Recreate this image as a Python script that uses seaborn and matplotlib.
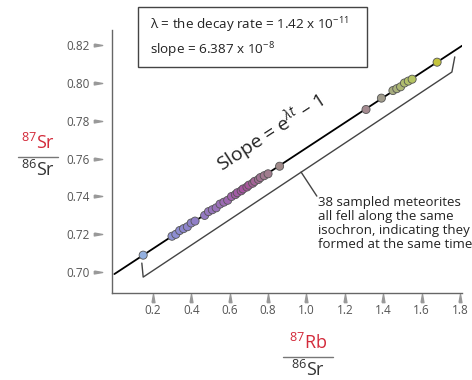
import numpy as np
import pandas as pd
import matplotlib
matplotlib.use('Agg')
import matplotlib.pyplot as plt
import seaborn as sns
from matplotlib.colors import LinearSegmentedColormap
from matplotlib.lines import Line2D
from matplotlib.patches import Rectangle

# données
rb_sr = [0.15,
         0.30, 0.32, 0.34, 0.36, 0.38, 0.40, 0.42,
         0.47, 0.49, 0.51, 0.53, 0.55, 0.57, 0.59, 0.61, 0.63, 0.64, 0.66,
         0.67, 0.69, 0.70, 0.72, 0.73, 0.75, 0.76, 0.78, 0.80, 0.86,
         1.31, 1.39, 1.45, 1.47, 1.49, 1.51, 1.53, 1.55, 1.68]
sr_sr = [0.709,
         0.719, 0.720, 0.722, 0.723, 0.724, 0.726, 0.727,
         0.730, 0.732, 0.733, 0.734, 0.736, 0.737, 0.738, 0.740, 0.741, 0.742, 0.743,
         0.744, 0.745, 0.746, 0.747, 0.748, 0.749, 0.750, 0.751, 0.752, 0.756,
         0.786, 0.792, 0.796, 0.797, 0.798, 0.800, 0.801, 0.802, 0.811]
iso_x = [0.0, 1.81]
iso_y = [0.699, 0.8197]
xticks = [0.2, 0.4, 0.6, 0.8, 1.0, 1.2, 1.4, 1.6, 1.8]
yticks = [0.70, 0.72, 0.74, 0.76, 0.78, 0.80, 0.82]

df = pd.DataFrame({'rb': rb_sr, 'sr': sr_sr})

sns.set_style('white')
plt.rcParams['font.family'] = ['Open Sans', 'DejaVu Sans']
plt.rcParams['mathtext.fontset'] = 'custom'
plt.rcParams['mathtext.rm'] = 'Open Sans'
plt.rcParams['mathtext.it'] = 'Open Sans:italic'

red = '#d32a3a'
grey = '#555555'

cmap = LinearSegmentedColormap.from_list('meteor', [
    (0.00, '#93b0e0'), (0.13, '#8c88d0'), (0.26, '#9a70b8'), (0.35, '#a8509e'),
    (0.41, '#a07890'), (0.46, '#a08a8a'), (0.76, '#a48a90'), (0.81, '#a09a8c'),
    (0.86, '#a8b07c'), (0.91, '#b4c466'), (1.00, '#c4c43c')])

fig = plt.figure(figsize=(4.72, 3.8), dpi=100)
ax = fig.add_axes([0.237, 0.229, 0.742, 0.692])

sns.lineplot(x=iso_x, y=iso_y, color='black', linewidth=1.3, ax=ax)
sns.scatterplot(data=df, x='rb', y='sr', hue='rb', palette=cmap, hue_norm=(0.15, 1.68),
                s=34, edgecolor='#555555', linewidth=0.6, legend=False, ax=ax, zorder=3)

ax.set_xlim(-0.013, 1.81)
ax.set_ylim(0.689, 0.828)
ax.set_xticks(xticks)
ax.set_yticks(yticks)
ax.set_xticklabels([f'{v:.1f}' for v in xticks])
ax.set_yticklabels([f'{v:.2f}' for v in yticks])
ax.tick_params(axis='both', length=0, labelsize=8.5, labelcolor=grey)
ax.tick_params(axis='y', pad=16)
ax.tick_params(axis='x', pad=8)
ax.set_xlabel('')
ax.set_ylabel('')
sns.despine(ax=ax)
for side in ['left', 'bottom']:
    ax.spines[side].set_color('#666666')
    ax.spines[side].set_linewidth(1.0)

# petits repères triangulaires
tri_r = [(-1, 0.35), (1, 0), (-1, -0.35), (-1, 0.35)]
tri_u = [(-0.35, -1), (0, 1), (0.35, -1), (-0.35, -1)]
for v in yticks:
    ax.plot([-0.041], [v], marker=tri_r, markersize=6, color='#999999',
            transform=ax.get_yaxis_transform(), clip_on=False)
for v in xticks:
    ax.plot([v], [-0.02], marker=tri_u, markersize=6, color='#999999',
            transform=ax.get_xaxis_transform(), clip_on=False)

# texte le long de l'isochrone
ax.text(0.81, 0.7735, r'Slope = e$^{\lambda t}$ – 1', rotation=33, fontsize=14,
        ha='center', va='center', color='#222222')

# accolade sous les points
ax.plot([0.143, 0.150, 1.757, 1.772], [0.7048, 0.6974, 0.8058, 0.8138],
        color='#444444', linewidth=1.0, clip_on=False)
ax.plot([0.972, 1.054], [0.7529, 0.7402], color='#444444', linewidth=1.0)
ax.text(1.059, 0.7400, '38 sampled meteorites\nall fell along the same\n'
        'isochron, indicating they\nformed at the same time',
        fontsize=9.5, linespacing=1.1, ha='left', va='top', color='#222222', clip_on=False)

# encadré
fig.add_artist(Rectangle((0.292, 0.824), 0.486, 0.158, transform=fig.transFigure,
                         facecolor='white', edgecolor='#444444', linewidth=1.0))
fig.text(0.318, 0.934, r'λ = the decay rate = 1.42 x 10$^{-11}$', fontsize=9.7,
         va='center', color='#222222')
fig.text(0.318, 0.868, r'slope = 6.387 x 10$^{-8}$', fontsize=9.7,
         va='center', color='#222222')

# étiquettes en fraction
fig.text(0.081, 0.624, r'$^{87}$Sr', color=red, fontsize=13, ha='center', va='center')
fig.add_artist(Line2D([0.038, 0.123], [0.587, 0.587], transform=fig.transFigure,
                      color='#777777', linewidth=1.0))
fig.text(0.081, 0.553, r'$^{86}$Sr', color='#333333', fontsize=13, ha='center', va='center')

fig.text(0.653, 0.097, r'$^{87}$Rb', color=red, fontsize=13, ha='center', va='center')
fig.add_artist(Line2D([0.600, 0.706], [0.061, 0.061], transform=fig.transFigure,
                      color='#777777', linewidth=1.0))
fig.text(0.653, 0.026, r'$^{86}$Sr', color='#333333', fontsize=13, ha='center', va='center')

fig.savefig('out.png', dpi=100)
